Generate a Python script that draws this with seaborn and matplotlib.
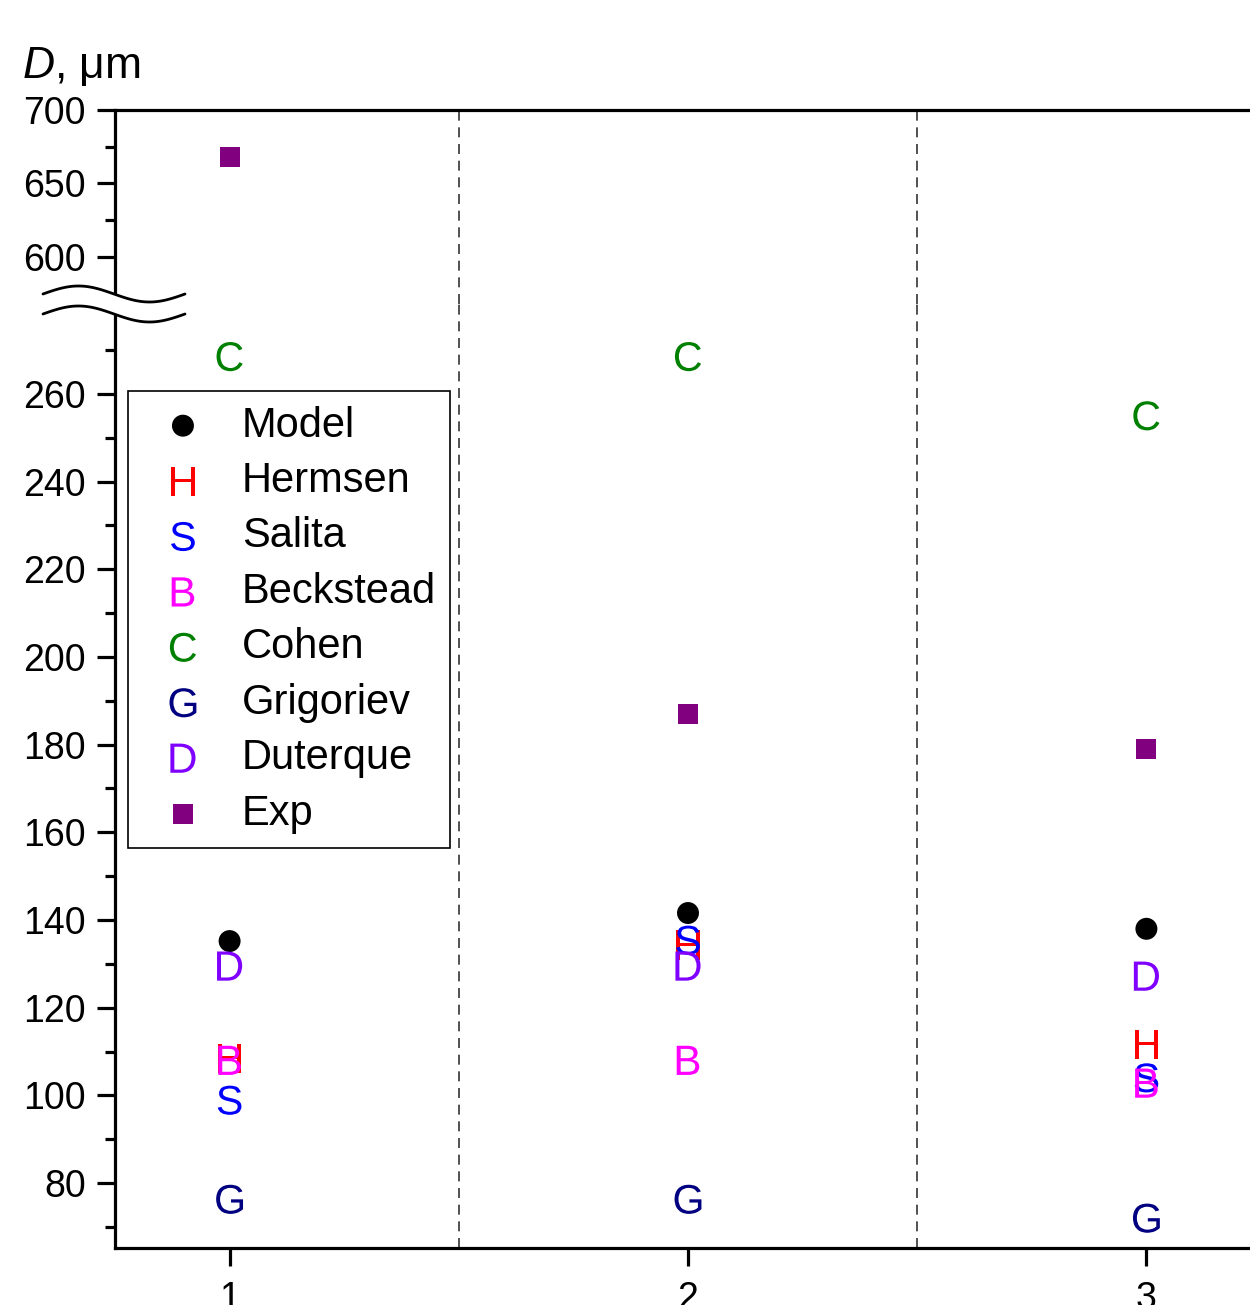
import numpy as np
import matplotlib
matplotlib.use("Agg")
import matplotlib.pyplot as plt
import seaborn as sns

# values (D, um) for cases 1, 2, 3
cases = [1, 2, 3]
model = [135.2, 141.6, 138.0]
hermsen = [108.5, 134.3, 111.7]
salita = [98.9, 135.4, 104.0]
beckstead = [108.0, 108.0, 102.8]
cohen = [268.5, 268.5, 255.0]
grigoriev = [76.3, 76.3, 72.0]
duterque = [129.5, 129.5, 127.2]
exp = [668.0, 187.0, 179.0]

series = [
    ("Model", model, "o", "black", 250),
    ("Hermsen", hermsen, r"$\mathsf{H}$", "#ff0000", 441),
    ("Salita", salita, r"$\mathsf{S}$", "#0000ff", 441),
    ("Beckstead", beckstead, r"$\mathsf{B}$", "#ff00ff", 441),
    ("Cohen", cohen, r"$\mathsf{C}$", "#008000", 441),
    ("Grigoriev", grigoriev, r"$\mathsf{G}$", "#000080", 441),
    ("Duterque", duterque, r"$\mathsf{D}$", "#8000ff", 441),
    ("Exp", exp, "s", "#800080", 210),
]

sns.set_style("ticks", {"axes.edgecolor": "black", "xtick.color": "black",
                        "ytick.color": "black", "text.color": "black",
                        "axes.labelcolor": "black"})
plt.rcParams["font.family"] = ["Liberation Sans", "DejaVu Sans"]
plt.rcParams["mathtext.fontset"] = "custom"
plt.rcParams["mathtext.rm"] = "Liberation Sans"
plt.rcParams["mathtext.sf"] = "Liberation Sans"
plt.rcParams["mathtext.it"] = "Liberation Sans:italic"

W, H = 1250, 1305
fig = plt.figure(figsize=(W / 100, H / 100), dpi=100)
left, right = 115 / W, 1261 / W
ax_top = fig.add_axes([left, 1 - 304 / H, right - left, (304 - 110) / H])
ax_bot = fig.add_axes([left, 1 - 1248 / H, right - left, (1248 - 304) / H])

for ax in (ax_top, ax_bot):
    for name, vals, mk, col, s in series:
        sns.scatterplot(x=cases, y=vals, ax=ax, marker=mk, color=col, s=s,
                        edgecolor="none", linewidth=0,
                        label=name if ax is ax_bot else None, zorder=3)
    for xv in (1.5, 2.5):
        ax.axvline(xv, color="0.2", lw=1.2, ls=(0, (6, 4)), zorder=1)
    ax.set_xlim(0.75, 3.25)
    ax.spines["right"].set_visible(False)
    for sp in ax.spines.values():
        sp.set_linewidth(2.3)
    ax.tick_params(axis="both", which="major", length=13, width=2.3,
                   labelsize=27, pad=8, direction="out")
    ax.tick_params(axis="y", which="minor", length=7, width=2.3, direction="out")

ax_top.set_ylim(568, 700)
ax_top.set_yticks([600, 650, 700])
ax_top.set_yticks([575, 625, 675], minor=True)
ax_top.spines["bottom"].set_visible(False)
ax_top.tick_params(axis="x", which="both", bottom=False, labelbottom=False)

ax_bot.set_ylim(65.2, 280.5)
ax_bot.set_yticks(np.arange(80, 261, 20))
ax_bot.set_yticks(np.arange(70, 271, 20), minor=True)
ax_bot.spines["top"].set_visible(False)
ax_bot.set_xticks(cases)
ax_bot.set_xticklabels([str(c) for c in cases])
ax_bot.tick_params(axis="x", pad=11)

leg = ax_bot.legend(loc="upper left", bbox_to_anchor=(0.0113, 0.9078),
                    borderaxespad=0, fontsize=30, frameon=True, fancybox=False,
                    framealpha=1, edgecolor="black", labelspacing=0.37,
                    handletextpad=0.44, borderpad=0.35, handlelength=1.94)
leg.get_frame().set_linewidth(1.2)

# axis break squiggle over the left spine
t = np.linspace(0, 1, 100)
bx = (43 + 142 * t) / W
wave = 8 * np.sin(2 * np.pi * t)
y1 = 1 - (294 - wave) / H
y2 = 1 - (314 - wave) / H
fig.patches.append(plt.Polygon(np.column_stack([np.r_[bx, bx[::-1]], np.r_[y1, y2[::-1]]]),
                               closed=True, transform=fig.transFigure,
                               facecolor="white", edgecolor="none", zorder=5))
fig.lines.append(plt.Line2D(bx, y1, transform=fig.transFigure, color="black", lw=2, zorder=6))
fig.lines.append(plt.Line2D(bx, y2, transform=fig.transFigure, color="black", lw=2, zorder=6))

fig.text(22 / W, 1 - 78 / H, r"$D$, μm", fontsize=32, ha="left", va="baseline")

fig.savefig("out.png", dpi=100, facecolor="white")
